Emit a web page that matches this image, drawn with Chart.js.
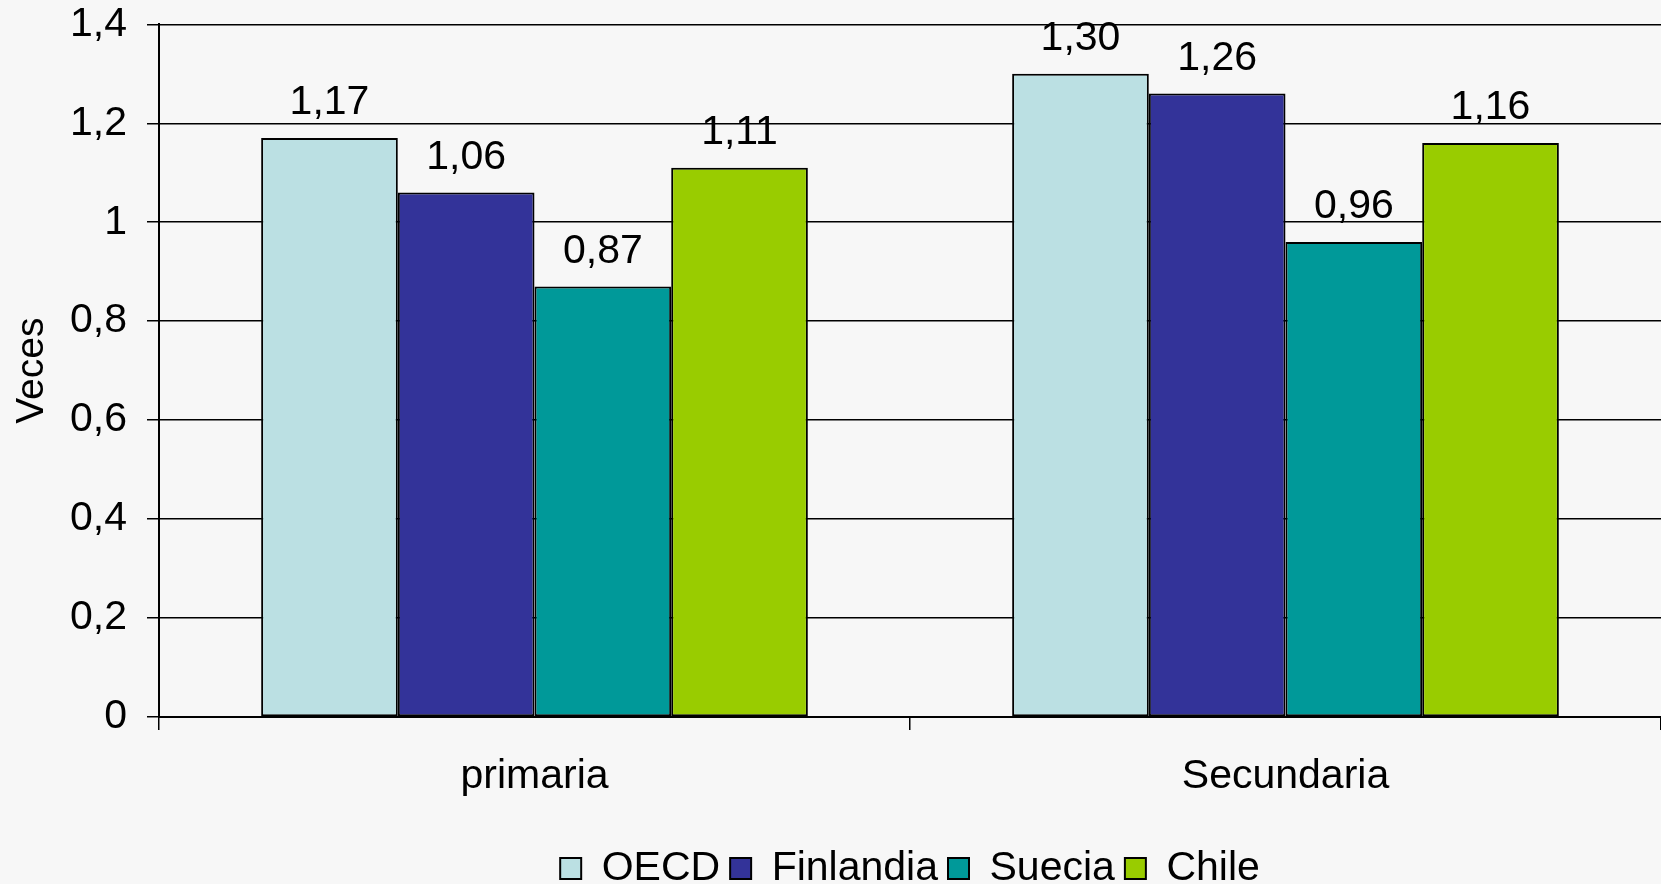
<!DOCTYPE html>
<html>
<head>
<meta charset="utf-8">
<script src="https://cdn.jsdelivr.net/npm/chart.js@4/dist/chart.umd.min.js"></script>
<style>
  html, body { margin: 0; padding: 0; background: #F7F7F7; }
  #wrap { width: 1661px; height: 884px; position: relative; }
</style>
</head>
<body>
<div id="wrap"><canvas id="chart"></canvas></div>
<script>
const categories = ["primaria", "Secundaria"];
const seriesNames = ["OECD", "Finlandia", "Suecia", "Chile"];
const oecd = [1.17, 1.30];
const finlandia = [1.06, 1.26];
const suecia = [0.87, 0.96];
const chile = [1.11, 1.16];
const yTickLabels = ["0", "0,2", "0,4", "0,6", "0,8", "1", "1,2", "1,4"];

const colors = ["#BBE0E3", "#333399", "#009999", "#99CC00"];
const font = "'Liberation Sans', Arial, sans-serif";

// value labels above each bar, decimal comma
const barLabels = {
  id: "barLabels",
  afterDatasetsDraw(chart) {
    const ctx = chart.ctx;
    ctx.save();
    ctx.font = "41px " + font;
    ctx.fillStyle = "#000";
    ctx.textAlign = "center";
    ctx.textBaseline = "alphabetic";
    chart.data.datasets.forEach((ds, i) => {
      chart.getDatasetMeta(i).data.forEach((bar, j) => {
        ctx.fillText(ds.data[j].toFixed(2).replace(".", ","), bar.x, bar.y - 24);
      });
    });
    ctx.restore();
  },
};

// legend sits under the plot area centre, a bit lower
const legendShift = {
  id: "legendShift",
  afterLayout(chart) {
    const lg = chart.legend;
    const dx = (chart.chartArea.left + chart.chartArea.right) / 2 - (lg.left + lg.right) / 2;
    lg.left += dx;
    lg.right += dx;
    lg.top += 15;
    lg.bottom += 15;
  },
};

new Chart(document.getElementById("chart"), {
  type: "bar",
  data: {
    labels: categories,
    datasets: [oecd, finlandia, suecia, chile].map((d, i) => ({
      label: seriesNames[i],
      data: d,
      backgroundColor: colors[i],
      borderColor: "#000",
      borderWidth: 2,
      borderSkipped: false,
      categoryPercentage: 0.728,
      barPercentage: 1,
    })),
  },
  options: {
    responsive: true,
    maintainAspectRatio: false,
    animation: false,
    layout: { padding: 0 },
    plugins: {
      tooltip: { enabled: false },
      legend: {
        position: "bottom",
        labels: {
          boxWidth: 21,
          boxHeight: 21,
          padding: 10,
          color: "#000",
          font: { size: 41, family: font },
        },
      },
    },
    scales: {
      x: {
        afterFit(scale) { scale.height = 106; },
        border: { display: true, color: "#000", width: 2 },
        grid: {
          display: true,
          drawOnChartArea: false,
          drawTicks: true,
          tickLength: 13,
          color: "#000",
          lineWidth: 1.5,
        },
        ticks: {
          color: "#000",
          padding: 22,
          font: { size: 41, family: font },
        },
      },
      y: {
        min: 0,
        max: 1.4,
        afterFit(scale) { scale.width = 159; },
        border: { display: true, color: "#000", width: 2 },
        grid: {
          color: "#000",
          lineWidth: 1.5,
          tickLength: 12,
        },
        ticks: {
          stepSize: 0.2,
          color: "#000",
          padding: 20,
          font: { size: 41, family: font, lineHeight: 0.21 },
          callback: (v, i) => yTickLabels[i],
        },
        title: {
          display: true,
          text: "Veces",
          color: "#000",
          font: { size: 39, family: font },
          padding: { top: 9, bottom: 0 },
        },
      },
    },
  },
  plugins: [barLabels, legendShift],
});
</script>
</body>
</html>
